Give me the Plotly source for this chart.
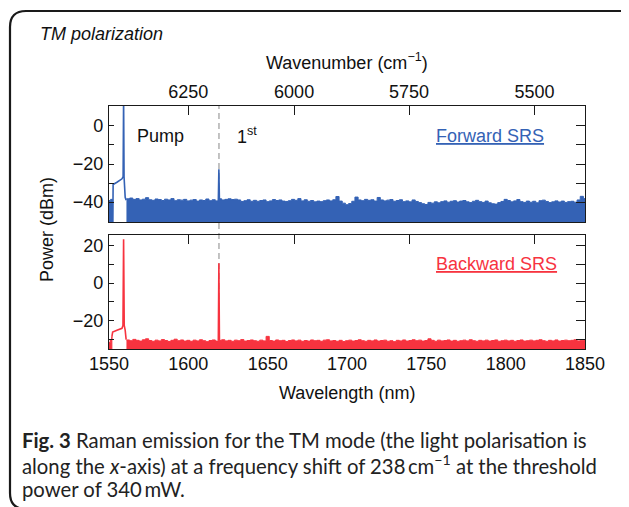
import plotly.graph_objects as go

# ---------------- data ----------------
wl_range = [1550, 1850]
wl_ticks = [1550, 1600, 1650, 1700, 1750, 1800, 1850]
wn_ticks = [6250, 6000, 5750, 5500]
fwd_yrange = [-50.5, 10.5]
bwd_yrange = [-35, 25.5]

noise_x_start = 1561
noise_step = 2
fwd_noise = [
    -38.3, -37.9, -38.6, -38.2, -38.9, -38.5, -37.7, -38.8, -39.1, -38.4,
    -38.7, -39.2, -38.5, -38.9, -38.2, -39.3, -38.8, -39.0, -38.6, -39.4,
    -39.0, -38.7, -39.5, -38.9, -39.2, -38.4, -39.3, -38.8, -39.4, -38.3,
    -38.9, -38.6, -38.3, -38.7, -38.5, -38.9, -39.7, -39.3, -38.8, -39.6,
    -39.1, -39.6, -39.2, -38.9, -39.8, -39.4, -38.7, -39.2, -38.9, -39.5,
    -39.7, -39.3, -38.6, -39.1, -38.2, -39.4, -38.8, -39.6, -39.2, -39.9,
    -39.5, -39.8, -39.3, -38.9, -39.4, -38.8, -37.1, -39.5, -40.6, -41.4,
    -40.8, -39.6, -37.4, -38.9, -39.3, -38.6, -39.1, -38.8, -39.5, -37.6,
    -38.9, -39.4, -39.0, -38.7, -39.6, -39.2, -38.8, -39.8, -39.4, -39.9,
    -38.9, -39.7, -40.3, -40.9, -41.3, -40.2, -40.6, -39.9, -40.4, -39.8,
    -39.4, -40.1, -39.6, -39.3, -40.0, -39.5, -39.2, -39.9, -40.3, -39.6,
    -39.1, -39.8, -40.2, -39.5, -40.4, -40.9, -41.1, -40.3, -39.7, -38.6,
    -39.2, -39.9, -39.4, -38.7, -39.8, -40.2, -39.5, -40.1, -39.6, -40.4,
    -39.3, -39.0, -39.7, -40.3, -39.9, -39.4, -40.0, -39.5, -40.2, -39.8,
    -39.6, -40.1, -38.9, -37.0, -38.2, -38.6,
]
bwd_noise = [
    -30.2, -30.6, -29.9, -30.4, -30.8, -30.1, -29.6, -30.5, -30.9, -30.3,
    -30.7, -30.0, -30.5, -31.0, -30.4, -29.8, -30.6, -30.2, -30.8, -30.4,
    -30.9, -30.3, -30.7, -30.1, -30.6, -31.1, -30.5, -30.2, -30.8, -30.4,
    -30.1, -30.7, -30.4, -30.9, -30.3, -30.6, -30.0, -30.8, -30.5, -30.2,
    -30.6, -30.9, -30.3, -30.7, -28.3, -30.5, -30.8, -30.2, -30.6, -30.4,
    -31.0, -30.5, -30.2, -30.7, -30.3, -30.9, -30.5, -30.8, -30.2, -30.6,
    -30.4, -30.9, -30.3, -30.1, -30.7, -30.5, -30.9, -30.4, -31.0, -30.6,
    -30.3, -30.8, -30.5, -30.1, -30.6, -30.9, -30.4, -30.7, -30.2, -30.8,
    -30.5, -30.3, -30.9, -30.6, -31.1, -30.4, -30.7, -30.2, -30.8, -30.5,
    -30.1, -30.6, -30.3, -30.8, -30.5, -29.6, -30.4, -30.9, -30.3, -30.7,
    -30.5, -30.2, -30.8, -30.4, -30.9, -30.6, -30.3, -30.7, -30.1, -30.6,
    -30.9, -30.4, -30.7, -30.3, -30.8, -30.5, -30.2, -30.9, -30.6, -30.3,
    -30.7, -30.4, -30.9, -30.5, -30.2, -30.8, -30.6, -30.3, -30.7, -30.4,
    -30.1, -30.6, -30.9, -30.4, -30.7, -30.2, -30.8, -30.5, -30.3, -30.6,
    -30.4, -30.1, -30.7, -30.3, -30.5, -30.5,
]
fwd_edge_x = [1550, 1551, 1552.3]
fwd_edge_y = [-39.2, -38.6, -39.0]
bwd_edge_x = [1550, 1550.8, 1551.8]
bwd_edge_y = [-31.5, -30.2, -28.6]

fwd_pump_x = [1552.3, 1552.6, 1555.0, 1558.2, 1558.9, 1559.2, 1559.5, 1560.2, 1560.8]
fwd_pump_y = [-60, -30.8, -29.6, -27.8, -26.6, 15, -26.8, -37.5, -39]
bwd_pump_x = [1551.8, 1552.3, 1555.0, 1558.2, 1558.8, 1559.2, 1559.6, 1560.2, 1560.8]
bwd_pump_y = [-28.6, -26.0, -25.0, -24.0, -22.5, 23.2, -22.5, -25.0, -30.0]
stokes_x = [1618.9, 1619.25, 1619.6]
fwd_stokes_y = [-39.5, -22.8, -39.5]
bwd_stokes_y = [-30.5, 10.5, -30.5]
stokes_wl = 1619.3

BLUE = "#3462B5"
RED = "#F7333F"
FONT = "Liberation Sans"

# ---------------- layout geometry (screen pixels) ----------------
W, H = 629, 507
OFF = 8  # page offset of the figure inside the window
PL, PR, PT, PB = 109, 585, 106, 349
GAP_TOP, GAP_BOT = 222, 235


def xp(px):
    return (px - PL) / (PR - PL)


def yp(py):
    return (PB - py) / (PB - PT)


def noise_polygon(segments, base=-70):
    xs, ys = [], []
    for sx, sy in segments:
        xs += list(sx) + [sx[-1], sx[0], None]
        ys += list(sy) + [base, base, None]
    return xs, ys


noise_x = [noise_x_start + noise_step * i for i in range(len(fwd_noise))]
noise_x2 = [noise_x_start + noise_step * i for i in range(len(bwd_noise))]

fx, fy = noise_polygon([(fwd_edge_x + [fwd_edge_x[-1]], fwd_edge_y + [fwd_edge_y[-1]]),
                        (noise_x, fwd_noise)])
bx, by = noise_polygon([(bwd_edge_x + [bwd_edge_x[-1]], bwd_edge_y + [bwd_edge_y[-1]]),
                        (noise_x2, bwd_noise)])

fig = go.Figure()
fig.add_trace(go.Scatter(x=fx, y=fy, mode="lines", line=dict(color=BLUE, width=1, shape="hv"),
                         fill="toself", fillcolor=BLUE, xaxis="x", yaxis="y", hoverinfo="skip"))
fig.add_trace(go.Scatter(x=fwd_pump_x + [None] + stokes_x, y=fwd_pump_y + [None] + fwd_stokes_y,
                         mode="lines", line=dict(color=BLUE, width=1.6), xaxis="x", yaxis="y"))
fig.add_trace(go.Scatter(x=bx, y=by, mode="lines", line=dict(color=RED, width=1, shape="hv"),
                         fill="toself", fillcolor=RED, xaxis="x2", yaxis="y2", hoverinfo="skip"))
fig.add_trace(go.Scatter(x=bwd_pump_x + [None] + stokes_x, y=bwd_pump_y + [None] + bwd_stokes_y,
                         mode="lines", line=dict(color=RED, width=1.6), xaxis="x2", yaxis="y2"))
# empty traces so the overlay (mirror) axes get drawn
fig.add_trace(go.Scatter(x=[None], y=[None], xaxis="x3", yaxis="y3"))
fig.add_trace(go.Scatter(x=[None], y=[None], xaxis="x4", yaxis="y4"))

dom_top = [yp(GAP_TOP), 1]
dom_bot = [0, yp(GAP_BOT)]
tickfont = dict(family=FONT, size=18, color="#111")
axcol = "#1a1a1a"
wn_pos = [1e7 / w for w in wn_ticks]

fig.update_layout(
    width=W, height=H, autosize=False,
    margin=dict(l=PL - OFF, r=W - (PR - OFF), t=PT - OFF, b=H - (PB - OFF), pad=0),
    paper_bgcolor="white", plot_bgcolor="rgba(0,0,0,0)",
    showlegend=False,
    font=dict(family=FONT, size=18, color="#111"),
    xaxis=dict(domain=[0, 1], anchor="y", range=wl_range, showticklabels=False, ticks="",
               showline=True, linecolor=axcol, linewidth=1.3, showgrid=False, zeroline=False),
    xaxis3=dict(overlaying="x", anchor="y", side="top", range=wl_range, tickmode="array",
                tickvals=wn_pos, ticktext=[str(w) for w in wn_ticks], ticks="inside", ticklen=9,
                tickcolor=axcol, tickwidth=1.3, showline=True, linecolor=axcol, linewidth=1.3,
                showgrid=False, zeroline=False, tickfont=tickfont, ticklabelstandoff=0),
    yaxis=dict(domain=dom_top, anchor="x", range=fwd_yrange, tick0=0, dtick=20, ticks="inside",
               ticklen=5, tickcolor=axcol, tickwidth=1.3,
               minor=dict(tick0=0, dtick=10, ticks="inside", ticklen=5, tickcolor=axcol, tickwidth=1.3),
               showline=True, linecolor=axcol, linewidth=1.3, showgrid=False, zeroline=False,
               tickfont=tickfont, ticklabelstandoff=1),
    yaxis3=dict(overlaying="y", anchor="x", side="right", range=fwd_yrange, tick0=0, dtick=10,
                ticks="inside", ticklen=9, tickcolor=axcol, tickwidth=1.3, showticklabels=False,
                showline=True, linecolor=axcol, linewidth=1.3, showgrid=False, zeroline=False),
    xaxis2=dict(domain=[0, 1], anchor="y2", range=wl_range, tickmode="array", tickvals=wl_ticks,
                ticks="", showline=True, linecolor=axcol, linewidth=1.3, showgrid=False,
                zeroline=False, tickfont=tickfont, layer="below traces", ticklabelstandoff=-2),
    xaxis4=dict(overlaying="x2", anchor="y2", side="top", range=wl_range, tickmode="array",
                tickvals=wn_pos, ticks="inside", ticklen=9, tickcolor=axcol, tickwidth=1.3,
                showticklabels=False, showline=True, linecolor=axcol, linewidth=1.3,
                showgrid=False, zeroline=False),
    yaxis2=dict(domain=dom_bot, anchor="x2", range=bwd_yrange, tick0=0, dtick=20, ticks="inside",
                ticklen=5, tickcolor=axcol, tickwidth=1.3,
                minor=dict(tick0=0, dtick=10, ticks="inside", ticklen=5, tickcolor=axcol, tickwidth=1.3),
                showline=True, linecolor=axcol, linewidth=1.3, showgrid=False, zeroline=False,
                tickfont=tickfont, ticklabelstandoff=1),
    yaxis4=dict(overlaying="y2", anchor="x2", side="right", range=bwd_yrange, tick0=0, dtick=10,
                ticks="inside", ticklen=9, tickcolor=axcol, tickwidth=1.3, showticklabels=False,
                showline=True, linecolor=axcol, linewidth=1.3, showgrid=False, zeroline=False),
)

# dashed marker at the first Stokes line
fig.add_shape(type="line", xref="x", yref="paper", x0=stokes_wl, x1=stokes_wl, y0=0, y1=1,
              layer="below", line=dict(color="#b5b5b5", width=1.6, dash="6px,4px"))

# rounded frame around the figure
r = 16
x0, y0, x1, y1 = 10, 11, 660, 509
path = (f"M {xp(x1)} {yp(y0)} L {xp(x0 + r)} {yp(y0)} Q {xp(x0)} {yp(y0)} {xp(x0)} {yp(y0 + r)} "
        f"L {xp(x0)} {yp(y1 - r)} Q {xp(x0)} {yp(y1)} {xp(x0 + r)} {yp(y1)} L {xp(x1)} {yp(y1)}")
fig.add_shape(type="path", xref="paper", yref="paper", path=path,
              line=dict(color="#1a1a1a", width=2.2))


def ann(text, px, py, size=18, color="#111", xanchor="center", family=FONT, angle=0):
    fig.add_annotation(text=text, x=xp(px), y=yp(py), xref="paper", yref="paper",
                       showarrow=False, xanchor=xanchor, yanchor="middle", textangle=angle,
                       font=dict(family=family, size=size, color=color))


ann("<i>TM polarization</i>", 38, 34, xanchor="left")
ann("Wavenumber (cm<sup>−1</sup>)", 347, 62)
ann("Wavelength (nm)", 347, 393)
ann("Power (dBm)", 47, 229, angle=-90)
ann("Pump", 160.5, 136)
ann("1<sup>st</sup>", 235, 135, xanchor="left")
ann("<u>Forward SRS</u>", 490, 136, color=BLUE)
ann("<u>Backward SRS</u>", 496.5, 264, color=RED)

CAP = "Lato"
CAPSZ = 20.3
ann("<b>Fig. 3</b> Raman emission for the TM mode (the light polarisation is", 20, 440,
    size=CAPSZ, color="#222", xanchor="left", family=CAP)
ann("along the <i>x</i>-axis) at a frequency shift of 238\u2009cm<sup>−1</sup> at the threshold", 20, 464,
    size=CAPSZ, color="#222", xanchor="left", family=CAP)
ann("power of 340\u2009mW.", 20, 489, size=CAPSZ, color="#222", xanchor="left", family=CAP)

fig.write_html("out.html")
